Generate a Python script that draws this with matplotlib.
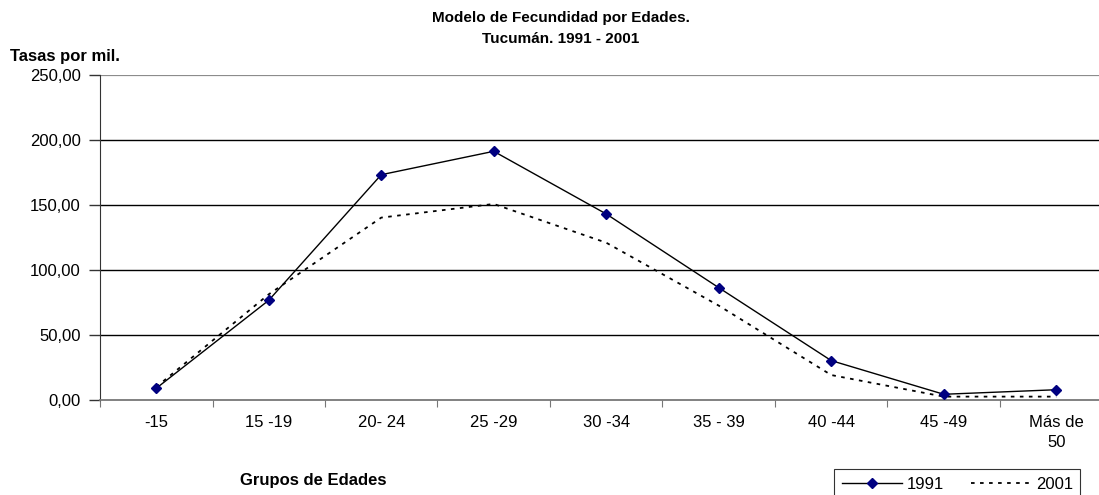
import matplotlib
matplotlib.use("Agg")
import matplotlib.pyplot as plt

# ---------------------------
# Data
# ---------------------------
grupos = ["-15", "15 -19", "20- 24", "25 -29", "30 -34", "35 - 39", "40 -44", "45 -49", "Más de\n50"]
tasas_1991 = [9.0, 76.7, 173.3, 191.3, 143.1, 86.4, 30.3, 4.4, 7.9]
tasas_2001 = [10.0, 81.3, 140.3, 150.8, 121.0, 72.6, 19.2, 2.6, 2.6]
y_ticks = [0, 50, 100, 150, 200, 250]
y_labels = ["0,00", "50,00", "100,00", "150,00", "200,00", "250,00"]

plt.rcParams['font.family'] = ['Liberation Sans', 'DejaVu Sans']

fig = plt.figure(figsize=(10.99, 4.95), dpi=100)
# plot area runs past the right edge of the picture, as in the original
ax = fig.add_axes([100 / 1099, 1 - 400 / 495, 1012.5 / 1099, 325 / 495])

x = list(range(len(grupos)))
ax.plot(x, tasas_1991, color="black", lw=1, marker="D", markersize=5,
        markerfacecolor="#000080", markeredgecolor="#000080", label="1991", zorder=3)
ax.plot(x, tasas_2001, color="black", lw=1.3, linestyle=(0, (2, 3)), label="2001", zorder=2)

ax.set_xlim(-0.5, len(grupos) - 0.5)
ax.set_ylim(0, 250)

# gridlines
for v in y_ticks[1:-1]:
    ax.axhline(v, color="black", lw=1, zorder=1)
ax.axhline(250, color="#8c8c8c", lw=1.6, zorder=1)

for side in ["top", "right"]:
    ax.spines[side].set_visible(False)
ax.spines["left"].set_color("#333333")
ax.spines["bottom"].set_color("#777777")
ax.spines["bottom"].set_linewidth(1.3)

ax.set_yticks(y_ticks)
ax.set_yticklabels(y_labels, fontsize=12)
ax.tick_params(axis="y", length=8, width=1, color="#333333", pad=6)

# ticks between groups, labels at centres
ax.set_xticks([i - 0.5 for i in range(len(grupos))])
ax.set_xticklabels([])
ax.set_xticks(x, minor=True)
ax.set_xticklabels(grupos, minor=True, fontsize=12, linespacing=1.4)
ax.tick_params(axis="x", which="major", length=5, color="#777777")
ax.tick_params(axis="x", which="minor", length=0, pad=11)

fig.text(0.51, 1 - 18 / 495, "Modelo de Fecundidad por Edades.", ha="center", va="center",
         fontsize=11, fontweight="bold")
fig.text(0.51, 1 - 39 / 495, "Tucumán. 1991 - 2001", ha="center", va="center",
         fontsize=11, fontweight="bold")
fig.text(10 / 1099, 1 - 57 / 495, "Tasas por mil.", ha="left", va="center",
         fontsize=12, fontweight="bold")
fig.text(313 / 1099, 1 - 481 / 495, "Grupos de Edades", ha="center", va="center",
         fontsize=12, fontweight="bold")

leg = fig.legend(loc="lower left", bbox_to_anchor=(826 / 1099, -0.025), ncol=2,
                 frameon=True, fancybox=False, edgecolor="black", fontsize=12,
                 handlelength=3.6, handletextpad=0.3, columnspacing=1.6, borderpad=0.45)
leg.get_frame().set_linewidth(0.8)

fig.savefig("out.png", dpi=100)
